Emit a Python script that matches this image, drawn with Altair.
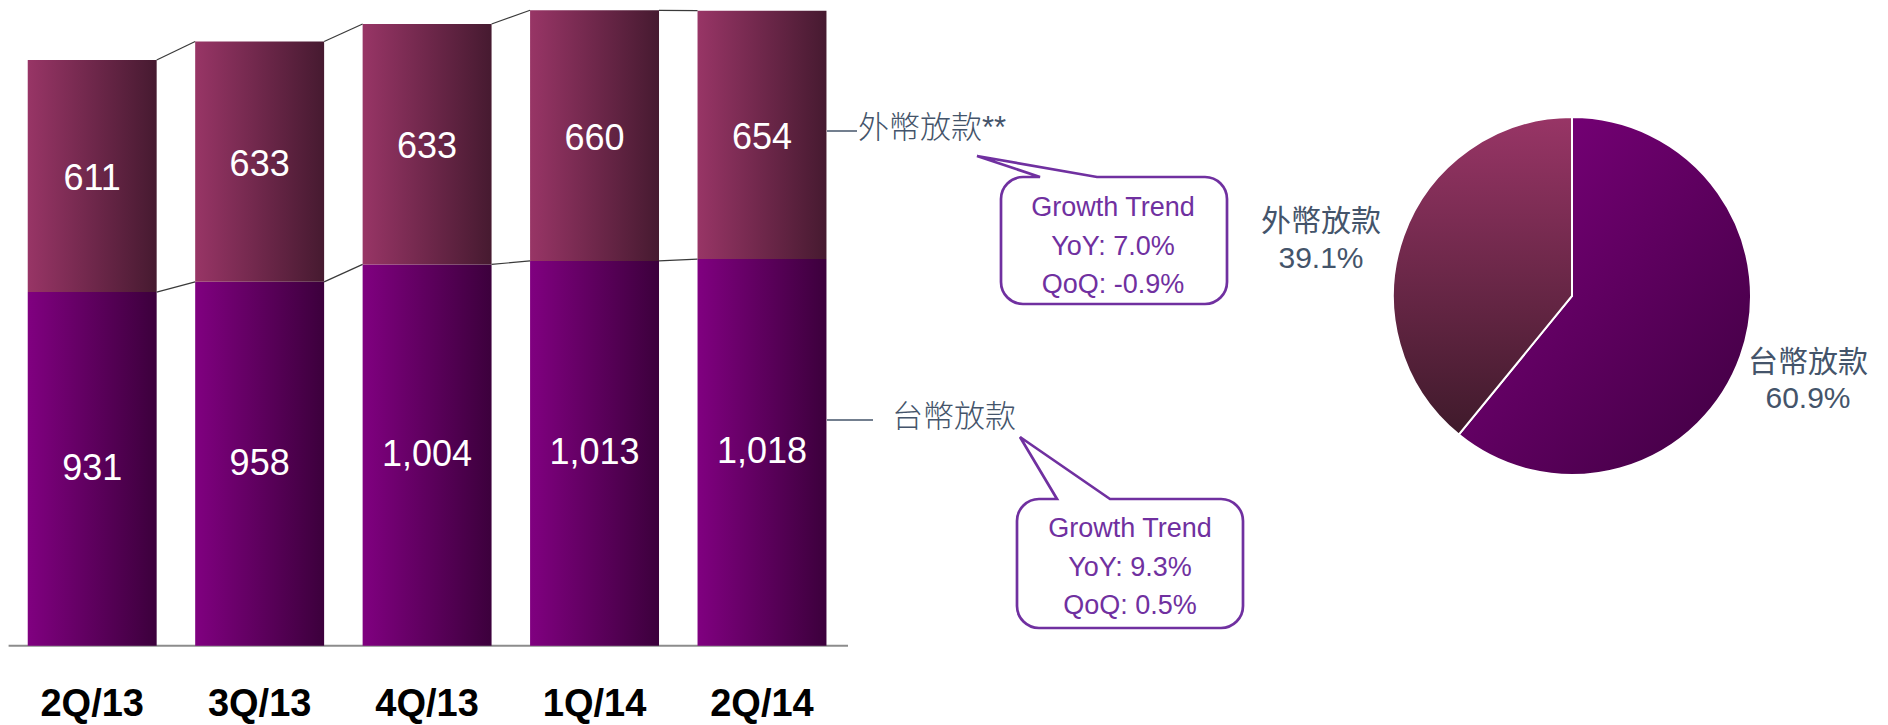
import math
import altair as alt
import pandas as pd

# ---------------- data ----------------
quarters = ["2Q/13", "3Q/13", "4Q/13", "1Q/14", "2Q/14"]
ntd_loans = [931, 958, 1004, 1013, 1018]
fx_loans = [611, 633, 633, 660, 654]

pie_cats = ["台幣放款", "外幣放款"]
pie_shares = [60.9, 39.1]

series_labels = ["外幣放款**", "台幣放款"]
fx_growth = [7.0, -0.9]    # YoY, QoQ
ntd_growth = [9.3, 0.5]    # YoY, QoQ

# ---------------- styles ----------------
PURPLE = "#7030A0"
SLATE = "#44546A"
LATIN = "Liberation Sans, Arial, Noto Sans CJK TC"
CJK = "Liberation Sans, Noto Sans CJK TC"

W, H = 1872, 717

bars = pd.DataFrame({"quarter": quarters, "idx": list(range(len(quarters))),
                     "ntd": ntd_loans, "fx": fx_loans})
pie = pd.DataFrame({"cat": pie_cats, "share": pie_shares, "ord": list(range(len(pie_cats)))})

xs = alt.Scale(domain=[0, 4], range=[84.2, 754.0], nice=False, zero=False)
ys = alt.Scale(domain=[0, 1000], range=[637.7, 257.9], nice=False, zero=False)
ts = alt.Scale(domain=[0, 100], range=[0, 2 * math.pi])

HALF = 0.385


def hgrad(c0, c1):
    return alt.LinearGradient(gradient="linear",
                              stops=[alt.GradientStop(color=c0, offset=0),
                                     alt.GradientStop(color=c1, offset=1)],
                              x1=0, x2=1, y1=0, y2=0)


def grad(c0, c1, x1, y1, x2, y2):
    return alt.LinearGradient(gradient="linear",
                              stops=[alt.GradientStop(color=c0, offset=0),
                                     alt.GradientStop(color=c1, offset=1)],
                              x1=x1, x2=x2, y1=y1, y2=y2)


base = alt.Chart(bars).transform_calculate(
    total="datum.ntd + datum.fx",
    xa=f"datum.idx - {HALF}",
    xb=f"datum.idx + {HALF}",
    zero="0",
    mid_lo="datum.ntd / 2",
    mid_hi="datum.ntd + datum.fx / 2",
)

baseline = base.mark_rule(color="#8c8c8c", strokeWidth=2).encode(
    x=alt.value(0.6), x2=alt.value(840),
    y=alt.Y("zero:Q", scale=ys, axis=None),
).transform_filter("datum.idx == 0")

lower = base.mark_bar(color=hgrad("#800080", "#3c003c"), strokeWidth=0).encode(
    x=alt.X("xa:Q", scale=xs, axis=None), x2="xb:Q",
    y=alt.Y("zero:Q", scale=ys, axis=None), y2="ntd:Q",
)
upper = base.mark_bar(color=hgrad("#983566", "#461a30"), strokeWidth=0).encode(
    x=alt.X("xa:Q", scale=xs, axis=None), x2="xb:Q",
    y=alt.Y("ntd:Q", scale=ys, axis=None), y2="total:Q",
)

conn_base = base.transform_window(
    next_ntd="lead(ntd)", next_total="lead(total)", sort=[alt.SortField("idx")]
).transform_filter("isValid(datum.next_ntd)").transform_calculate(
    ca=f"datum.idx + {HALF}", cb=f"datum.idx + 1 - {HALF}"
)
conn_lo = conn_base.mark_rule(color="#3a3a3a", strokeWidth=1.2).encode(
    x=alt.X("ca:Q", scale=xs, axis=None), x2="cb:Q",
    y=alt.Y("ntd:Q", scale=ys, axis=None), y2="next_ntd:Q",
)
conn_hi = conn_base.mark_rule(color="#3a3a3a", strokeWidth=1.2).encode(
    x=alt.X("ca:Q", scale=xs, axis=None), x2="cb:Q",
    y=alt.Y("total:Q", scale=ys, axis=None), y2="next_total:Q",
)

val_lo = base.mark_text(color="white", font=LATIN, fontSize=36, baseline="middle").encode(
    x=alt.X("idx:Q", scale=xs, axis=None),
    y=alt.Y("mid_lo:Q", scale=ys, axis=None),
    text=alt.Text("ntd:Q", format=","),
)
val_hi = base.mark_text(color="white", font=LATIN, fontSize=36, baseline="middle", dy=3).encode(
    x=alt.X("idx:Q", scale=xs, axis=None),
    y=alt.Y("mid_hi:Q", scale=ys, axis=None),
    text=alt.Text("fx:Q", format=","),
)
cat_lbl = base.mark_text(color="black", font=LATIN, fontSize=38, fontWeight="bold",
                         baseline="alphabetic").encode(
    x=alt.X("idx:Q", scale=xs, axis=None),
    y=alt.value(708),
    text="quarter:N",
)

# ---- series labels with leader lines ----
anno = alt.Chart(pd.DataFrame({"k": [0]}))
lead_fx = anno.mark_rule(color=SLATE, strokeWidth=1.5).encode(
    x=alt.value(819), x2=alt.value(849), y=alt.value(123))
lead_ntd = anno.mark_rule(color=SLATE, strokeWidth=1.5).encode(
    x=alt.value(819), x2=alt.value(865), y=alt.value(412))
lbl_fx = anno.mark_text(color=SLATE, font=CJK, fontSize=31, fontWeight=300,
                        align="left", baseline="middle").encode(
    x=alt.value(850), y=alt.value(121), text=alt.value(series_labels[0]))
lbl_ntd = anno.mark_text(color=SLATE, font=CJK, fontSize=31, fontWeight=300,
                         align="left", baseline="middle").encode(
    x=alt.value(884), y=alt.value(410), text=alt.value(series_labels[1]))


# ---- callouts ----
def callout_shape(box, tip, basex, r=22):
    x0, y0, x1, y1 = box
    k = 0.5523 * r
    allx = [x0, x1, tip[0]]
    ally = [y0, y1, tip[1]]
    cx = (min(allx) + max(allx)) / 2
    cy = (min(ally) + max(ally)) / 2
    R = max((max(allx) - min(allx)) / 2, (max(ally) - min(ally)) / 2) + 2

    def f(x, y):
        return f"{(x - cx) / R:.4f},{(y - cy) / R:.4f}"

    p = (f"M{f(x0 + r, y0)} L{f(basex[0], y0)} L{f(*tip)} L{f(basex[1], y0)} "
         f"L{f(x1 - r, y0)} C{f(x1 - r + k, y0)} {f(x1, y0 + r - k)} {f(x1, y0 + r)} "
         f"L{f(x1, y1 - r)} C{f(x1, y1 - r + k)} {f(x1 - r + k, y1)} {f(x1 - r, y1)} "
         f"L{f(x0 + r, y1)} C{f(x0 + r - k, y1)} {f(x0, y1 - r + k)} {f(x0, y1 - r)} "
         f"L{f(x0, y0 + r)} C{f(x0, y0 + r - k)} {f(x0 + r - k, y0)} {f(x0 + r, y0)} Z")
    return p, cx, cy, (2 * R) ** 2


def callout(box, tip, basex, lines, tx, ty):
    p, cx, cy, size = callout_shape(box, tip, basex)
    shape = anno.mark_point(shape=p, size=size, filled=True, fill="white", stroke=PURPLE,
                            strokeWidth=2.7, opacity=1, fillOpacity=1).encode(
        x=alt.value(cx), y=alt.value(cy))
    txt = anno.mark_text(color=PURPLE, font=LATIN, fontSize=27, lineHeight=38.5,
                         baseline="middle", align="center").encode(
        x=alt.value(tx), y=alt.value(ty), text=alt.value(lines))
    return shape + txt


def growth_lines(g):
    return ["Growth Trend", f"YoY: {g[0]:.1f}%", f"QoQ: {g[1]:.1f}%"]


callout_fx = callout((993, 169, 1219, 296), (969, 148), (1032, 1089),
                     growth_lines(fx_growth), 1105, 200)
callout_ntd = callout((1009, 491, 1235, 620), (1012, 429), (1049, 1102),
                      growth_lines(ntd_growth), 1122, 521)

# ---- pie ----
pie_base = alt.Chart(pie).transform_window(
    cum="sum(share)", sort=[alt.SortField("ord")], frame=[None, 0]
).transform_calculate(start="datum.cum - datum.share")

PCX, PCY, PR = 1564, 288, 179
slice_ntd = pie_base.transform_filter(f"datum.cat == '{pie_cats[0]}'").mark_arc(
    outerRadius=PR, stroke="white", strokeWidth=2,
    color=grad("#800080", "#3e0040", 0, 0, 1, 1)).encode(
    theta=alt.Theta("start:Q", scale=ts), theta2="cum:Q",
    x=alt.value(PCX), y=alt.value(PCY))
slice_fx = pie_base.transform_filter(f"datum.cat == '{pie_cats[1]}'").mark_arc(
    outerRadius=PR, stroke="white", strokeWidth=2,
    color=grad("#983566", "#3f1a2b", 0, 0, 0, 1)).encode(
    theta=alt.Theta("start:Q", scale=ts), theta2="cum:Q",
    x=alt.value(PCX), y=alt.value(PCY))

pie_lbl_fx = anno.mark_text(color=SLATE, font=CJK, fontSize=30, lineHeight=37,
                            baseline="middle", align="center").encode(
    x=alt.value(1313), y=alt.value(214),
    text=alt.value([pie_cats[1], f"{pie_shares[1]:.1f}%"]))
pie_lbl_ntd = anno.mark_text(color=SLATE, font=CJK, fontSize=30, lineHeight=36,
                             baseline="middle", align="center").encode(
    x=alt.value(1800), y=alt.value(355),
    text=alt.value([pie_cats[0], f"{pie_shares[0]:.1f}%"]))

chart = alt.layer(
    baseline, lower, upper, conn_lo, conn_hi, val_lo, val_hi, cat_lbl,
    lead_fx, lead_ntd, lbl_fx, lbl_ntd, callout_fx, callout_ntd,
    slice_ntd, slice_fx, pie_lbl_fx, pie_lbl_ntd,
).properties(
    width=W, height=H, padding=0,
    autosize=alt.AutoSizeParams(type="none"),
).configure_view(strokeWidth=0)

chart.save("out.html", embed_options={"renderer": "svg", "actions": False})
